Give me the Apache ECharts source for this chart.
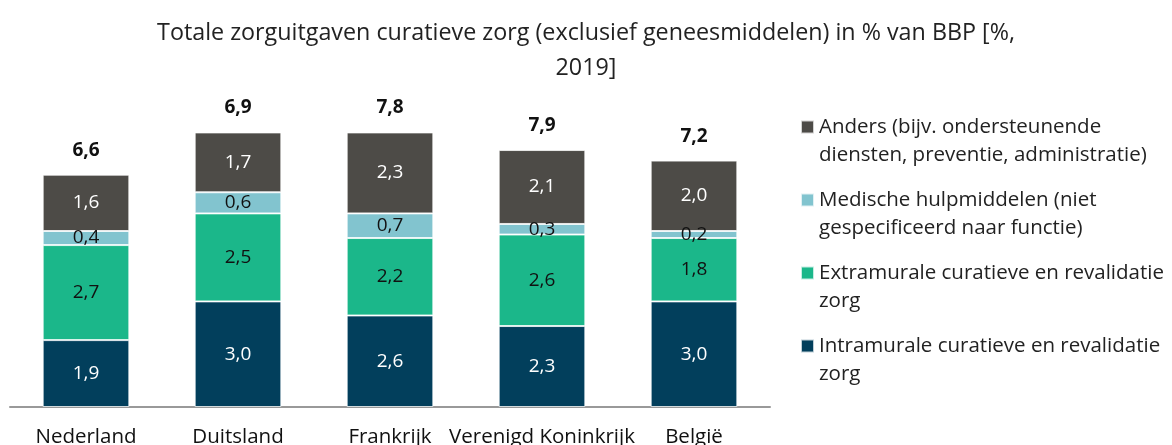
<!DOCTYPE html>
<html>
<head>
<meta charset="utf-8">
<script src="https://cdn.jsdelivr.net/npm/echarts@6/dist/echarts.min.js"></script>
<style>
  html, body { margin: 0; padding: 0; background: #fff; }
  #chart { width: 1172px; height: 445px; }
</style>
</head>
<body>
<div id="chart"></div>
<script>
// landen
var categories = ['Nederland', 'Duitsland', 'Frankrijk', 'Verenigd Koninkrijk', 'België'];
// waarden per component (% BBP)
var intramuraal = [1.9, 3.0, 2.6, 2.3, 3.0];
var extramuraal = [2.7, 2.5, 2.2, 2.6, 1.8];
var hulpmiddelen = [0.4, 0.6, 0.7, 0.3, 0.2];
var anders = [1.6, 1.7, 2.3, 2.1, 2.0];
// totalen zoals boven de staven vermeld
var totalen = [6.6, 6.9, 7.8, 7.9, 7.2];

var namen = [
  'Intramurale curatieve en revalidatie\nzorg',
  'Extramurale curatieve en revalidatie\nzorg',
  'Medische hulpmiddelen (niet\ngespecificeerd naar functie)',
  'Anders (bijv. ondersteunende\ndiensten, preventie, administratie)'
];

function nl(v) {
  return v.toFixed(1).replace('.', ',');
}

var chart = echarts.init(document.getElementById('chart'));
var font = 'Open Sans';

function serie(name, data, color, labelColor) {
  return {
    name: name,
    type: 'bar',
    stack: 'totaal',
    barWidth: '57%',
    data: data,
    itemStyle: { color: color, borderColor: 'rgba(255,255,255,0.75)', borderWidth: 1 },
    label: {
      show: true,
      position: 'inside',
      color: labelColor,
      fontFamily: font,
      fontSize: 19,
      formatter: function (p) { return nl(p.value); }
    }
  };
}

var series = [
  serie(namen[0], intramuraal, '#023F5C', '#fff'),
  serie(namen[1], extramuraal, '#1BB78A', '#111'),
  serie(namen[2], hulpmiddelen, '#82C4CF', '#111'),
  serie(namen[3], anders, '#4D4B47', '#fff')
];
// totaal boven de bovenste staaf
series.push({
  name: 'totaal',
  type: 'bar',
  stack: 'totaal',
  barWidth: '57%',
  data: totalen.map(function () { return 0; }),
  itemStyle: { color: 'transparent' },
  label: {
    show: true,
    position: 'top',
    distance: 15,
    color: '#111',
    fontFamily: font,
    fontSize: 19,
    fontWeight: 'bold',
    formatter: function (p) { return nl(totalen[p.dataIndex]); }
  }
});

chart.setOption({
  animation: false,
  backgroundColor: '#fff',
  title: {
    text: 'Totale zorguitgaven curatieve zorg (exclusief geneesmiddelen) in % van BBP [%,\n2019]',
    left: 'center',
    top: 11,
    textStyle: {
      fontFamily: font,
      fontSize: 23.3,
      fontWeight: 'normal',
      color: '#222',
      lineHeight: 35,
      align: 'center'
    }
  },
  legend: {
    orient: 'vertical',
    left: 800,
    top: 85,
    padding: 0,
    itemGap: -11,
    itemWidth: 13,
    itemHeight: 13,
    icon: 'rect',
    data: [namen[3], namen[2], namen[1], namen[0]],
    // lege eerste regel zodat het blokje bij de eerste tekstregel staat
    formatter: function (n) { return ' \n' + n; },
    textStyle: {
      fontFamily: font,
      fontSize: 20.5,
      color: '#222',
      lineHeight: 28
    }
  },
  grid: {
    left: 10,
    right: 402,
    top: 55,
    bottom: 38,
    outerBoundsMode: 'none'
  },
  xAxis: {
    type: 'category',
    data: categories,
    axisTick: { show: false },
    axisLine: { lineStyle: { color: '#999', width: 2 } },
    axisLabel: {
      fontFamily: font,
      fontSize: 20.5,
      color: '#111',
      margin: 20,
      interval: 0
    }
  },
  yAxis: {
    type: 'value',
    min: 0,
    max: 10,
    show: false,
    splitLine: { show: false }
  },
  series: series
});
</script>
</body>
</html>
